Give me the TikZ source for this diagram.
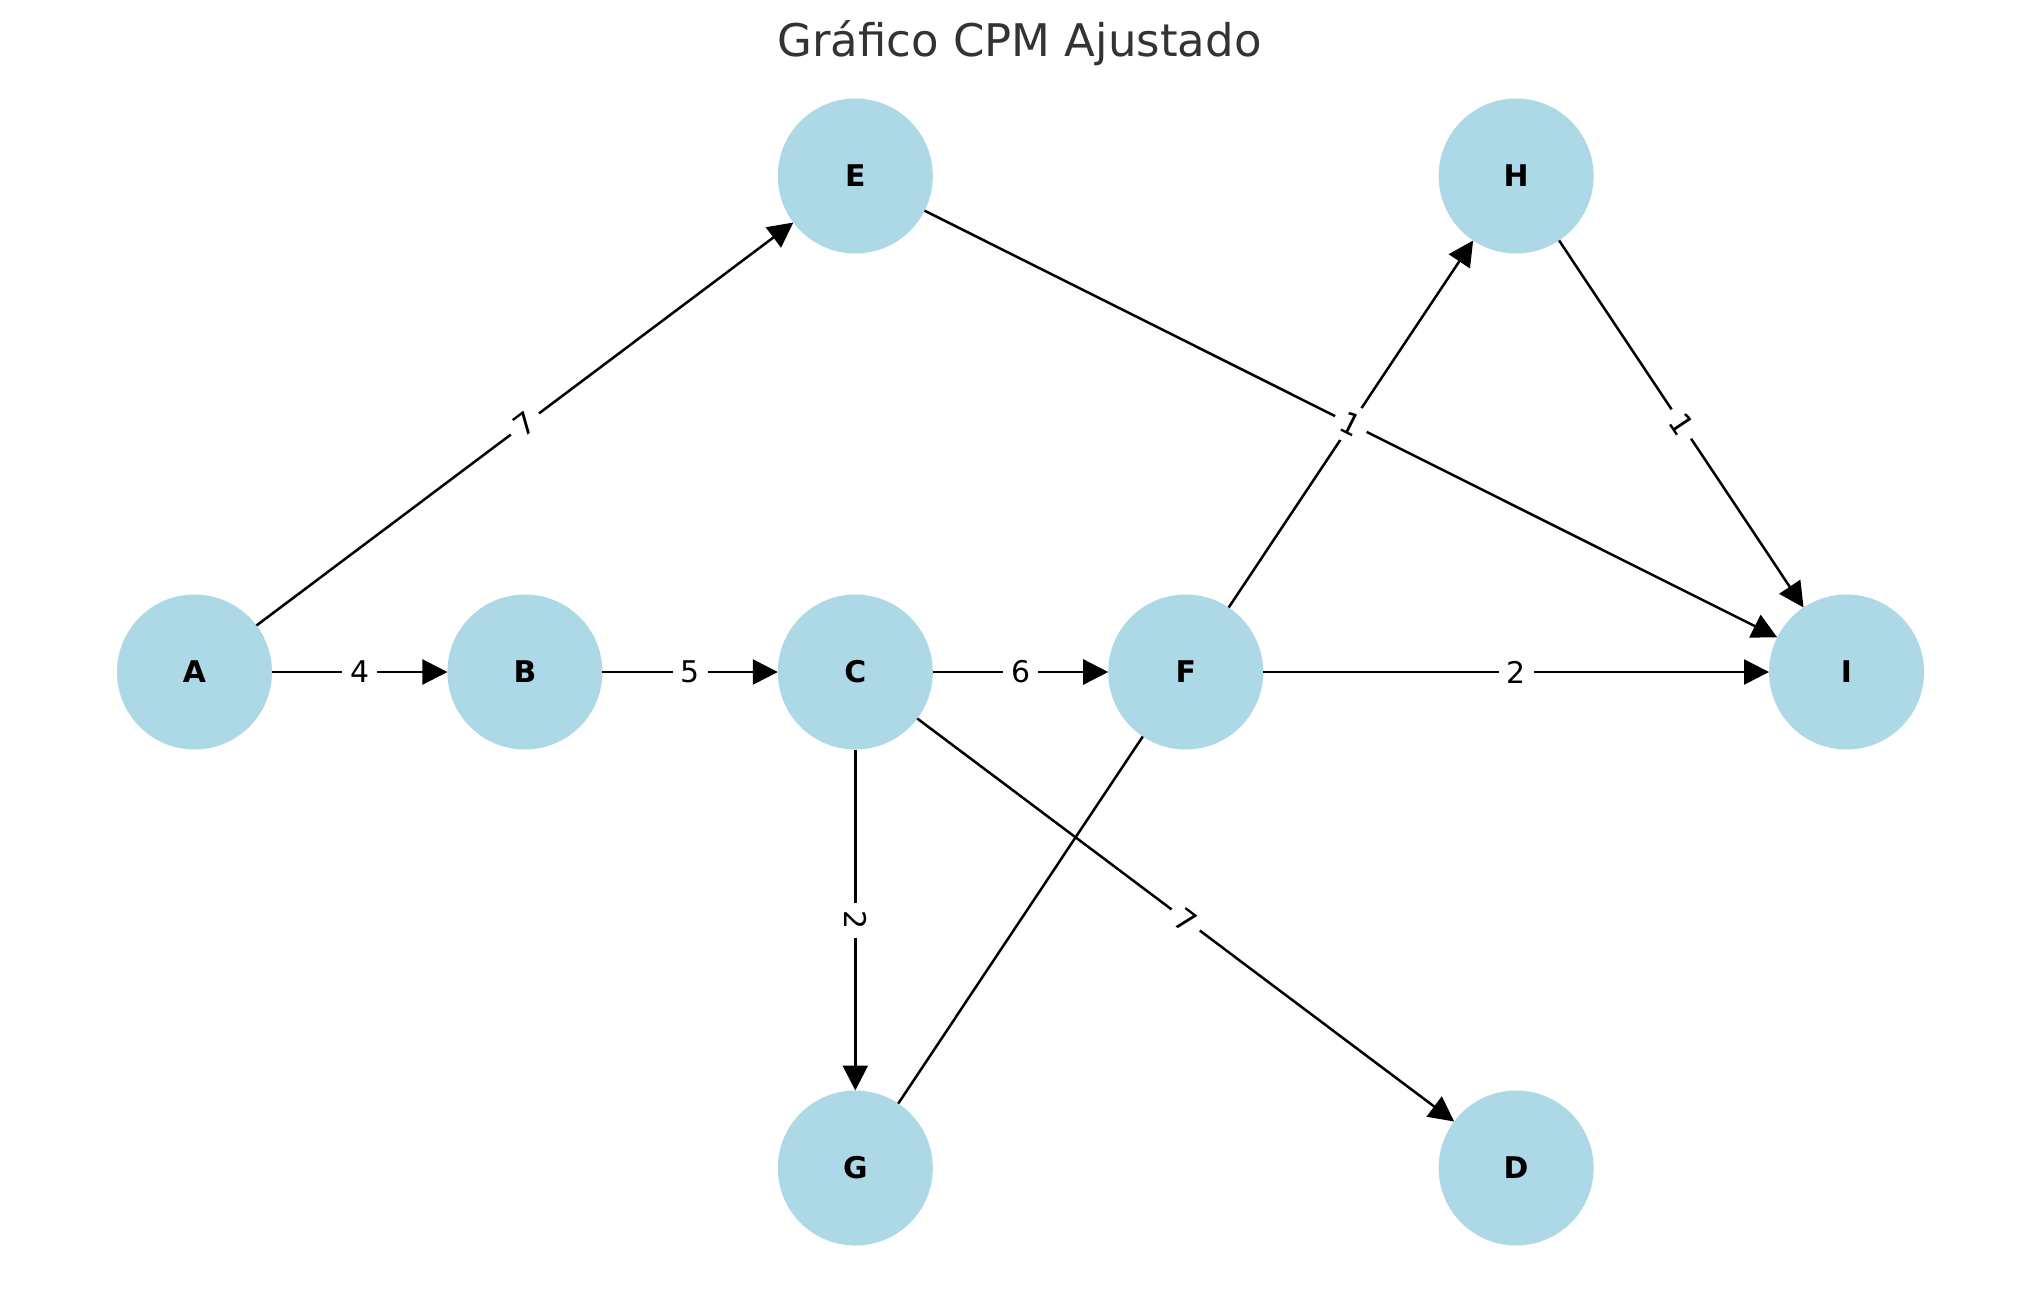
\documentclass[tikz,border=0pt]{standalone}
\usepackage{fontspec}
\setmainfont{DejaVu Sans}
\usetikzlibrary{arrows.meta}
\definecolor{nodeblue}{HTML}{ADD8E6}
\definecolor{titlegray}{HTML}{333333}
\begin{document}
\begin{tikzpicture}[
    job/.style={circle, fill=nodeblue, minimum size=1.55cm, inner sep=0pt, outer sep=0pt,
                font=\fontsize{8.5}{10}\selectfont\bfseries},
    dur/.style={midway, sloped, fill=white, inner sep=0.08cm, font=\fontsize{8.5}{10}\selectfont},
    arc/.style={-{Triangle[length=0.25cm, width=0.25cm]}, line width=0.71pt},
    link/.style={line width=0.71pt}]
    \useasboundingbox (0,0) rectangle (20.39,12.92);
    \node[anchor=base, text=titlegray, font=\fontsize{12.8}{15}\selectfont] (title) at (10.195,12.35) {Gráfico CPM Ajustado};
    % activities
    \node (A) at (1.945,6.20) [job] {A};
    \node (B) at (5.249,6.20) [job] {B};
    \node (C) at (8.553,6.20) [job] {C};
    \node (F) at (11.857,6.20) [job] {F};
    \node (I) at (18.465,6.20) [job] {I};
    \node (E) at (8.553,11.16) [job] {E};
    \node (H) at (15.161,11.16) [job] {H};
    \node (G) at (8.553,1.24) [job] {G};
    \node (D) at (15.161,1.24) [job] {D};
    % durations
    \draw[arc] (A) -- (E) node[dur] {7};
    \draw[arc] (A) -- (B) node[dur] {4};
    \draw[arc] (B) -- (C) node[dur] {5};
    \draw[arc] (C) -- (F) node[dur] {6};
    \draw[arc] (C) -- (G) node[dur] {2};
    \draw[arc] (C) -- (D) node[dur] {7};
    \draw[link] (G) -- (F);
    \draw[arc] (F) -- (H) node[dur] {1};
    \draw[arc] (F) -- (I) node[dur] {2};
    \draw[arc] (E) -- (I) node[dur] {1};
    \draw[arc] (H) -- (I) node[dur] {1};
\end{tikzpicture}
\end{document}
